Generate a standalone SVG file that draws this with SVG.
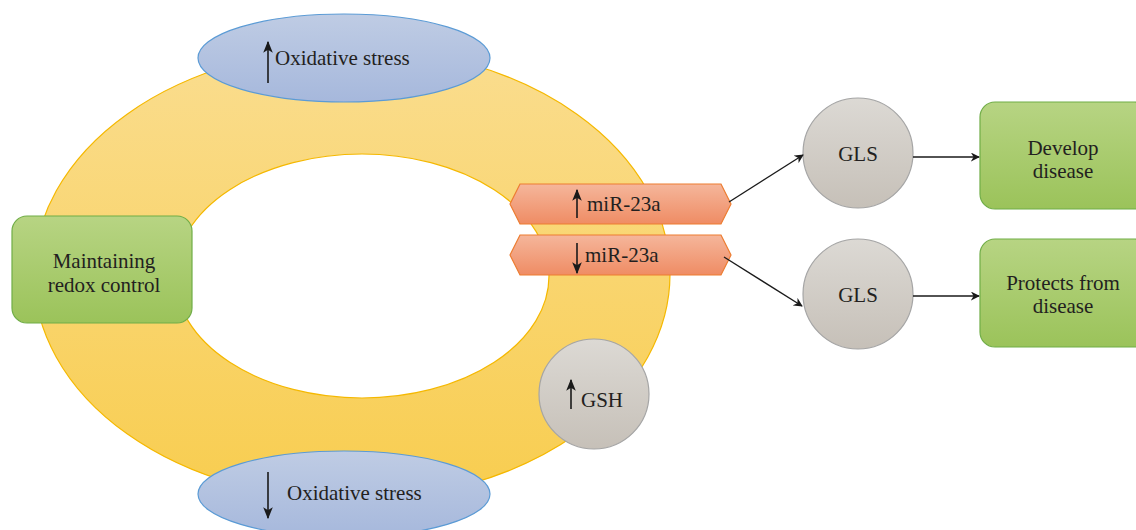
<svg xmlns="http://www.w3.org/2000/svg" width="1136" height="530" viewBox="0 0 1136 530">
<defs>
<linearGradient id="gRing" x1="0" y1="0" x2="0" y2="1"><stop offset="0" stop-color="#fadd8f"/><stop offset="1" stop-color="#f8cd4f"/></linearGradient>
<linearGradient id="gBlue" x1="0" y1="0" x2="0" y2="1"><stop offset="0" stop-color="#bfcce4"/><stop offset="1" stop-color="#a6b8dc"/></linearGradient>
<linearGradient id="gGreen" x1="0" y1="0" x2="0" y2="1"><stop offset="0" stop-color="#b7d483"/><stop offset="1" stop-color="#9bc35a"/></linearGradient>
<linearGradient id="gOrange" x1="0" y1="0" x2="0" y2="1"><stop offset="0" stop-color="#f5b69b"/><stop offset="1" stop-color="#ef8c64"/></linearGradient>
<linearGradient id="gGray" x1="0" y1="0" x2="0" y2="1"><stop offset="0" stop-color="#dcd9d4"/><stop offset="1" stop-color="#c6c0b8"/></linearGradient>
<marker id="ah" viewBox="0 0 10 10" refX="9" refY="5" markerWidth="9" markerHeight="9" markerUnits="userSpaceOnUse" orient="auto"><path d="M0,0 L10,5 L0,10 L3,5 z" fill="#1a1a1a"/></marker>
<marker id="ah2" viewBox="0 0 10 10" refX="9" refY="5" markerWidth="12" markerHeight="12" markerUnits="userSpaceOnUse" orient="auto"><path d="M0,1 L10,5 L0,9 L2.5,5 z" fill="#1a1a1a"/></marker>
</defs>
<style>
text{font-family:'Liberation Serif','DejaVu Serif',serif;font-size:21px;fill:#231f20}
.c{text-anchor:middle}
.blue{fill:url(#gBlue);stroke:#5b9bd5;stroke-width:1.2}
.green{fill:url(#gGreen);stroke:#70ad47;stroke-width:1.2}
.orange{fill:url(#gOrange);stroke:#ed7d31;stroke-width:1.2}
.gray{fill:url(#gGray);stroke:#a5a5a5;stroke-width:1.2}
.conn{stroke:#1a1a1a;stroke-width:1.3;fill:none}
.ar{stroke:#1a1a1a;stroke-width:1.6;fill:none}
</style>
<g id="ring">
<path d="M34,274 A318,226 0 1,0 670,274 A318,226 0 1,0 34,274 Z M175,276 A187,122 0 1,1 549,276 A187,122 0 1,1 175,276 Z" fill="url(#gRing)" fill-rule="evenodd" stroke="#f5b800" stroke-width="1.2"/>
</g>
<g id="oxidative-up">
<ellipse class="blue" cx="344" cy="58" rx="146" ry="44"/>
<line class="ar" x1="268" y1="83" x2="268" y2="42" marker-end="url(#ah2)"/>
<text x="275" y="65">Oxidative stress</text>
</g>
<g id="oxidative-down">
<ellipse class="blue" cx="344" cy="494" rx="146" ry="43"/>
<line class="ar" x1="268" y1="472" x2="268" y2="518" marker-end="url(#ah2)"/>
<text x="287" y="500">Oxidative stress</text>
</g>
<g id="maintaining">
<rect class="green" x="12" y="216" width="180" height="107" rx="15"/>
<text class="c" x="104" y="268">Maintaining</text>
<text class="c" x="104" y="292">redox control</text>
</g>
<g id="mir-up">
<path class="orange" d="M510,204 L520,184 L721,184 L731,204 L721,224 L520,224 Z"/>
<line class="ar" x1="577" y1="218" x2="577" y2="190" marker-end="url(#ah2)"/>
<text x="587" y="211">miR-23a</text>
</g>
<g id="mir-down">
<path class="orange" d="M510,255 L520,235 L721,235 L731,255 L721,275 L520,275 Z"/>
<line class="ar" x1="577" y1="243" x2="577" y2="273" marker-end="url(#ah2)"/>
<text x="585" y="262">miR-23a</text>
</g>
<g id="gsh">
<circle class="gray" cx="594" cy="394" r="55"/>
<line class="ar" x1="571" y1="409" x2="571" y2="380" marker-end="url(#ah2)"/>
<text x="581" y="407">GSH</text>
</g>
<g id="gls-top">
<circle class="gray" cx="858" cy="153" r="55"/>
<text class="c" x="858" y="161">GLS</text>
</g>
<g id="gls-bottom">
<circle class="gray" cx="858" cy="294" r="55"/>
<text class="c" x="858" y="302">GLS</text>
</g>
<g id="develop">
<rect class="green" x="980" y="102" width="170" height="107" rx="15"/>
<text class="c" x="1063" y="155">Develop</text>
<text class="c" x="1063" y="178">disease</text>
</g>
<g id="protects">
<rect class="green" x="980" y="239" width="170" height="108" rx="15"/>
<text class="c" x="1063" y="290">Protects from</text>
<text class="c" x="1063" y="313">disease</text>
</g>
<g id="connectors">
<line class="conn" x1="729" y1="202" x2="803" y2="155" marker-end="url(#ah)"/>
<line class="conn" x1="724" y1="257" x2="802" y2="306" marker-end="url(#ah)"/>
<line class="conn" x1="913" y1="157" x2="979" y2="157" marker-end="url(#ah)"/>
<line class="conn" x1="913" y1="296" x2="979" y2="296" marker-end="url(#ah)"/>
</g>
</svg>
